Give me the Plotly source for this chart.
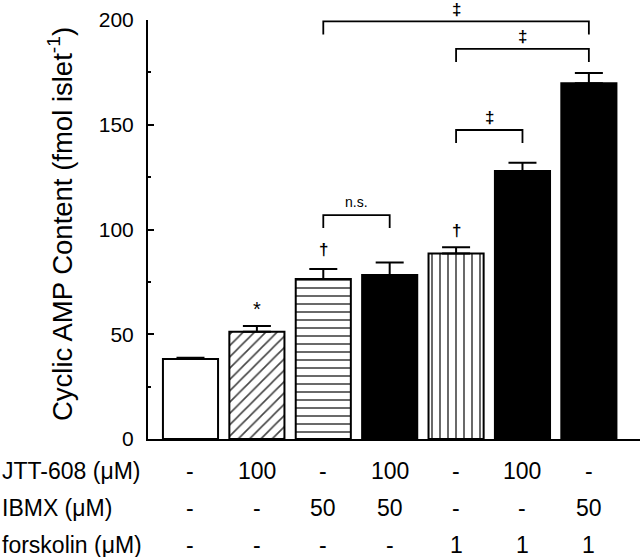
import plotly.graph_objects as go

# ---- data ----
groups = [0, 1, 2, 3, 4, 5, 6]
means = [38.2, 51.2, 76.4, 78.3, 88.6, 127.9, 169.8]
errs = [0.6, 2.7, 4.7, 6.0, 2.9, 4.0, 4.9]
patterns = ["", "/", "-", "", "|", "", ""]
fills = ["white", "white", "white", "black", "white", "black", "black"]
jtt608 = ["-", "100", "-", "100", "-", "100", "-"]
ibmx = ["-", "-", "50", "50", "-", "-", "50"]
forskolin = ["-", "-", "-", "-", "1", "1", "1"]
row_labels = ["JTT-608 (\u03bcM)", "IBMX (\u03bcM)", "forskolin (\u03bcM)"]
# significance marks above bars: (group, y value, symbol)
marks = [(1, 62.0, "*"), (2, 90.5, "\u2020"), (4, 99.5, "\u2020")]
# brackets: (from group, to group, top y, label)
brackets = [(2, 3, 106.9, "n.s."), (4, 5, 147.5, "\u2021"), (4, 6, 186.2, "\u2021"), (2, 6, 199.3, "\u2021")]
yticks = [0, 50, 100, 150, 200]
ytitle = "Cyclic AMP Content (fmol islet<sup>-1</sup>)"

FONT = "Liberation Sans, Arial, sans-serif"
L, T, PW, PH = 148, 20, 492, 419

fig = go.Figure()
fig.add_trace(go.Bar(
    x=groups, y=means, width=0.83,
    marker=dict(color=fills, line=dict(color="black", width=2),
                pattern=dict(shape=patterns, fgcolor="black", fgopacity=1,
                             size=8, solidity=0.2, fillmode="overlay")),
    error_y=dict(type="data", array=errs, arrayminus=[0] * len(errs),
                 color="black", thickness=2, width=14),
    showlegend=False,
))

shapes = []
for a, b, ytop, lab in brackets:
    drop = 6.2
    shapes.append(dict(type="path", xref="x", yref="y",
                       path=f"M {a},{ytop - drop} L {a},{ytop} L {b},{ytop} L {b},{ytop - drop}",
                       line=dict(color="black", width=1.8)))

annotations = []
for a, b, ytop, lab in brackets:
    annotations.append(dict(x=(a + b) / 2, y=ytop + (1.5 if lab == "n.s." else 0.3), xref="x", yref="y",
                            text=lab if lab == "n.s." else f"<b>{lab}</b>", showarrow=False, yanchor="bottom",
                            font=dict(size=14 if lab == "n.s." else 17, color="black", family=FONT)))
for g, yv, sym in marks:
    annotations.append(dict(x=g, y=yv, xref="x", yref="y",
                            text=sym if sym == "*" else f"<b>{sym}</b>", showarrow=False,
                            font=dict(size=20 if sym == "*" else 17, color="black", family=FONT)))

# y-axis title as rotated annotation
annotations.append(dict(x=(60 - L) / PW, y=(T + PH - 224) / PH, xref="paper", yref="paper",
                        text=ytitle, textangle=-90, showarrow=False,
                        xanchor="center", yanchor="middle",
                        font=dict(size=27.5, color="black", family=FONT)))

row_py = [471, 508, 545]
rows = [jtt608, ibmx, forskolin]
for py, lab, vals in zip(row_py, row_labels, rows):
    ry = (T + PH - py) / PH
    annotations.append(dict(x=-L / PW, y=ry, xref="paper", yref="paper", text=lab,
                            showarrow=False, xanchor="left", yanchor="middle",
                            font=dict(size=23, color="black", family=FONT)))
    for g, v in zip(groups, vals):
        annotations.append(dict(x=g, y=ry, xref="x", yref="paper", text=v,
                                showarrow=False, yanchor="middle",
                                font=dict(size=23, color="black", family=FONT)))

fig.update_layout(
    width=640, height=557,
    margin=dict(l=L, r=0, t=T, b=557 - T - PH, autoexpand=False),
    plot_bgcolor="white", paper_bgcolor="white",
    shapes=shapes, annotations=annotations,
    font=dict(family=FONT, color="black"),
    xaxis=dict(range=[-0.64, 6.77], showline=True, linecolor="black", linewidth=2,
               showticklabels=False, ticks="", showgrid=False, zeroline=False,
               automargin=False, fixedrange=True),
    yaxis=dict(range=[0, 200], showline=True, linecolor="black", linewidth=2,
               tickvals=yticks, ticks="inside", ticklen=6, tickwidth=2, tickcolor="black",
               minor=dict(ticks="inside", ticklen=3, dtick=25, tickwidth=2, tickcolor="black"),
               showgrid=False, zeroline=False, automargin=False,
               tickfont=dict(size=21, color="black", family=FONT),
               ticklabelstandoff=8),
    bargap=0.17,
)

fig.write_html("out.html", config={"displayModeBar": False},
               post_script="document.body.style.margin='0';")
